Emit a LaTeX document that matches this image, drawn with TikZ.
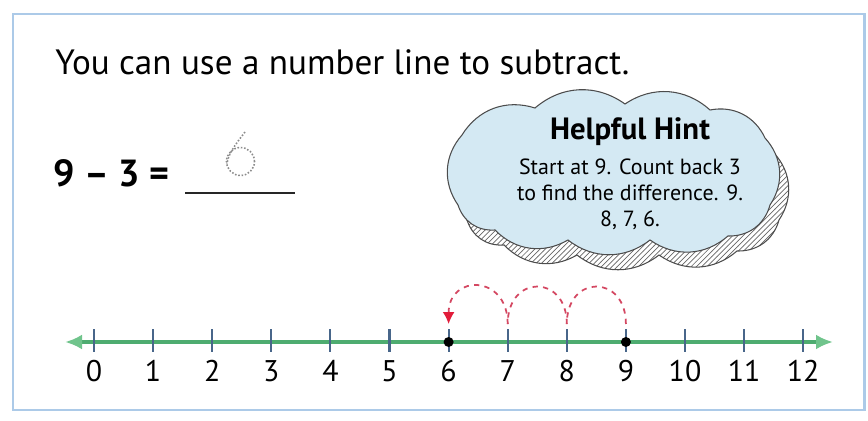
\documentclass[tikz,border=0pt]{standalone}
\usepackage{fontspec}
\setmainfont{PT Sans}
\usepackage{tikz}
\usetikzlibrary{patterns,arrows.meta}
\definecolor{framec}{RGB}{172,202,232}
\definecolor{lineg}{RGB}{78,172,112}
\definecolor{tipg}{RGB}{112,196,140}
\definecolor{tickc}{RGB}{72,102,138}
\definecolor{hop}{RGB}{212,72,98}
\definecolor{hoptip}{RGB}{226,28,58}
\definecolor{cloudc}{RGB}{212,233,243}
\newcommand\hintcloud{(9.16,4.3) to[bend left=38] (9.24,5.7) to[bend left=38] (10.7,6.24)
  to[bend left=38] (12.5,6.32) to[bend left=38] (14.2,6.2) to[bend left=38] (15.3,5.64)
  to[bend left=38] (15.4,4.3) to[bend left=38] (14.56,3.68) to[bend left=38] (13.0,3.6)
  to[bend left=38] (11.36,3.6) to[bend left=38] (9.9,3.8) to[bend left=38] cycle}

\begin{document}
\begin{tikzpicture}[font=\fontsize{20}{24}\selectfont,
  tick/.style={draw=tickc,line width=1.2pt},
  hopline/.style={draw=hop,dashed,line width=1pt},
  lbl/.style={font=\fontsize{17}{20}\selectfont,inner sep=0pt},
  dot/.style={circle,fill=black,inner sep=0pt,minimum size=0.2cm},
  bubble/.style={draw=black!70,line width=0.6pt,fill=cloudc},
  bubbleshade/.style={draw=black!70,line width=0.6pt,pattern=north east lines,pattern color=black!60}]
  \useasboundingbox (0,0) rectangle (17.36,8.4);
  \draw[framec,line width=1.7pt] (0.26,0.2) rectangle (17.28,8.12);

  \node[anchor=base west,inner sep=0pt] (title) at (1.1,6.9) {You can use a number line to subtract.};

  % equation and traced answer
  \node[anchor=base west,inner sep=0pt,font=\fontsize{21.5}{26}\selectfont\bfseries] (eq) at (1.06,4.66) {9 -- 3 =};
  \draw[black!85,line width=0.9pt] (3.7,4.54) -- (5.9,4.54);
  \draw[black!45,densely dotted,line width=0.9pt] (4.81,5.17) circle (0.28);
  \draw[black!45,densely dotted,line width=0.9pt] (4.9,5.76) .. controls (4.7,5.5) and (4.56,5.32) .. (4.54,5.12);

  % hint cloud
  \path[bubbleshade,shift={(0.18,-0.3)}] \hintcloud;
  \path[bubble] \hintcloud;
  \node[font=\fontsize{17.5}{20}\selectfont\bfseries,inner sep=0pt] (hinttitle) at (12.6,5.76) {Helpful Hint};
  \node[font=\fontsize{12.5}{14.8}\selectfont,align=center,inner sep=0pt] (hinttext) at (12.6,4.52)
    {Start at 9. Count back 3\\to find the difference. 9.\\8, 7, 6.};

  % number line
  \coordinate (lend) at (1.3,1.56);
  \coordinate (rend) at (16.66,1.56);
  \draw[lineg,line width=2.2pt,{Latex[length=0.34cm,width=0.3cm,color=tipg]}-{Latex[length=0.34cm,width=0.3cm,color=tipg]}] (lend) -- (rend);
  \foreach \k in {0,...,12} {
    \coordinate (p\k) at (1.88+1.182*\k,1.56);
    \coordinate (h\k) at (1.88+1.182*\k,1.92);
    \draw[tick] (1.88+1.182*\k,1.82) -- (1.88+1.182*\k,1.36);
    \node[lbl] (n\k) at (1.88+1.182*\k,0.98) {\k};
  }
  \node[dot] (d6) at (p6) {};
  \node[dot] (d9) at (p9) {};

  % counting back
  \foreach \a/\b in {9/8,8/7}
    \draw[hopline] (h\a) .. controls +(0,1.0) and +(0,1.0) .. (h\b);
  \draw[hopline,-{Latex[length=0.24cm,width=0.24cm,color=hoptip]}] (h7) .. controls +(0,1.0) and +(0,1.0) .. (h6);
\end{tikzpicture}
\end{document}
